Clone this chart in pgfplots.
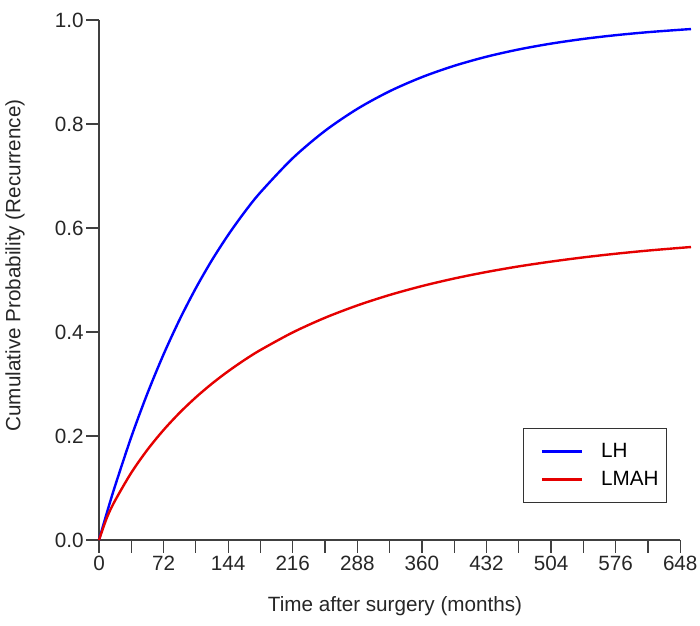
\documentclass[border=0pt]{standalone}
\usepackage{fontspec}
\setmainfont{Liberation Sans}
\usepackage{pgfplots}
\pgfplotsset{compat=1.18}

\begin{document}
\begin{tikzpicture}
  \begin{axis}[
      name=ax,
      scale only axis,
      width=444pt, height=390pt,
      xmin=0, xmax=660, ymin=0, ymax=1,
      axis lines=left,
      axis line style={-, line width=0.9pt, black!75},
      x axis line style={shorten >=8.1pt},
      every tick/.style={line width=0.9pt, black!75},
      tick align=outside,
      major tick length=9.5pt, minor tick length=9.5pt,
      xtick={0,72,...,648},
      minor xtick={36,108,...,612},
      ytick={0,0.2,...,1.0},
      yticklabel style={/pgf/number format/fixed, /pgf/number format/fixed zerofill,
        /pgf/number format/precision=1},
      /pgf/number format/assume math mode=true,
      tick label style={font=\fontsize{15.5}{18}\selectfont, black!85},
      xticklabel style={yshift=1pt},
      yticklabel style={xshift=1.5pt},
      xlabel={Time after surgery (months)},
      ylabel={Cumulative Probability (Recurrence)},
      every axis x label/.style={at={(rel axis cs:0.5,0)}, yshift=-49.5pt, anchor=center,
        font=\fontsize{15.5}{18}\selectfont, black!85},
      every axis y label/.style={at={(rel axis cs:0,0.528)}, xshift=-63pt, rotate=90, anchor=center,
        font=\fontsize{15.5}{18}\selectfont, black!85},
      clip=false,
      legend cell align=left,
      legend image code/.code={%
        \draw[#1, line width=2pt] (7pt,0pt) -- (37pt,0pt);
        \path (0pt,0pt);},
      legend style={at={(rel axis cs:0.9595,0.0712)}, anchor=south east,
        draw=black!80, line width=0.7pt, font=\fontsize{15.5}{18}\selectfont,
        inner xsep=6pt, inner ysep=11.4pt, row sep=8.4pt, column sep=13.5pt,
        nodes={inner sep=0pt}},
    ]
    \addplot[blue, line width=1.8pt, smooth] coordinates {
      (0,0) (9,0.0537) (18,0.1045) (36,0.1982) (54,0.2820) (72,0.3571)
      (90,0.4243) (108,0.4845) (126,0.5384) (144,0.5866) (162,0.6299)
      (180,0.6686) (216,0.7343) (252,0.7869) (288,0.8291) (324,0.8630)
      (360,0.8901) (396,0.9119) (432,0.9294) (468,0.9434) (504,0.9546)
      (540,0.9636) (576,0.9708) (612,0.9766) (648,0.9812) (660,0.9826)
    };
    \addplot[red!90!black, line width=1.8pt, smooth] coordinates {
      (0,0) (9,0.0438) (18,0.0761) (36,0.1294) (54,0.1736) (72,0.2116)
      (90,0.2449) (108,0.2744) (126,0.3008) (144,0.3245) (162,0.3460)
      (180,0.3654) (216,0.3992) (252,0.4274) (288,0.4511) (324,0.4712)
      (360,0.4883) (396,0.5029) (432,0.5154) (468,0.5262) (504,0.5354)
      (540,0.5435) (576,0.5505) (612,0.5566) (648,0.5618) (660,0.5634)
    };
    \legend{LH, LMAH}
  \end{axis}
  \pgfresetboundingbox
  \path[use as bounding box]
    ([shift={(-74.25pt,-63.75pt)}]ax.south west)
    rectangle ([shift={(6.75pt,15pt)}]ax.north east);
\end{tikzpicture}
\end{document}
